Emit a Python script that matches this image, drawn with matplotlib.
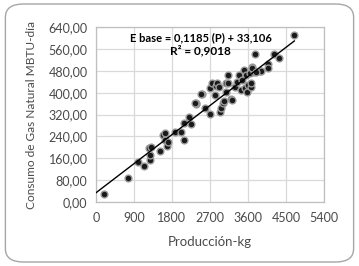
import matplotlib
matplotlib.use("Agg")
import matplotlib.pyplot as plt
from matplotlib.patches import FancyBboxPatch
from matplotlib.ticker import FuncFormatter
import numpy as np

# produccion (kg) y consumo de gas (MBTU-dia)
produccion = [198, 754, 1007, 1134, 1269, 1269, 1262, 1308, 1507, 1690,
              1587, 1642, 1642, 1705, 1880, 2006, 2077, 2077, 2196, 2260,
              2362, 2379, 2514, 2577, 2696, 2696, 2752, 2815, 2831, 2871,
              2910, 2934, 2966, 3005, 3029, 3069, 3069, 3133, 3133, 3188,
              3228, 3291, 3331, 3386, 3426, 3466, 3505, 3529, 3545, 3585,
              3600, 3648, 3664, 3704, 3742, 3885, 4694, 3759, 3704, 3664,
              3902, 4061, 4077, 4204, 4337, 3783, 2498, 2355]
consumo = [28, 88, 147, 132, 154, 172, 199, 202, 186, 205,
           245, 251, 227, 221, 255, 257, 227, 288, 310, 284,
           358, 361, 395, 343, 322, 418, 434, 391, 424, 436,
           422, 330, 345, 361, 370, 403, 434, 464, 436, 376,
           373, 422, 440, 464, 410, 446, 483, 416, 464, 403,
           428, 471, 422, 493, 477, 480, 613, 540, 491, 434,
           479, 504, 490, 540, 528, 477, 394, 361]

pendiente = 0.1185
intercepto = 33.106
x_ticks = [0, 900, 1800, 2700, 3600, 4500, 5400]
y_ticks = [0, 80, 160, 240, 320, 400, 480, 560, 640]

plt.rcParams['font.family'] = ['Lato', 'DejaVu Sans']

fig = plt.figure(figsize=(3.59, 2.66), dpi=100, facecolor="white")
# marco redondeado exterior
marco = FancyBboxPatch((0.015, 0.015), 0.97, 0.97, boxstyle="round,pad=0,rounding_size=0.05",
                       transform=fig.transFigure, facecolor="none", edgecolor="#a6a6a6",
                       linewidth=1.0, zorder=-10)
fig.patches.append(marco)

ax = fig.add_axes([0.267, 0.241, 0.636, 0.657])
ax.set_xlim(0, 5400)
ax.set_ylim(0, 640)
ax.set_xticks(x_ticks)
ax.set_yticks(y_ticks)
ax.yaxis.set_major_formatter(FuncFormatter(lambda v, p: f"{v:.2f}".replace(".", ",")))
ax.grid(True, color="#d9d9d9", linewidth=0.9)
ax.set_axisbelow(True)
for s in ax.spines.values():
    s.set_color("#bfbfbf")
    s.set_linewidth(0.9)
ax.tick_params(length=0, labelsize=9, colors="#4a4a4a")
ax.tick_params(axis="y", pad=6)
ax.tick_params(axis="x", pad=7)

# puntos con halo gris
ax.scatter(produccion, consumo, s=24, color="#1a1a1a", edgecolors="#9a9a9a", linewidths=1.0, zorder=3)

xl = np.array([0, max(produccion)])
ax.plot(xl, pendiente * xl + intercepto, color="black", linewidth=1.0, zorder=4)

ax.text(2474, 603, "E base = 0,1185 (P) + 33,106", ha="center", va="center",
        fontsize=8, fontweight="bold", color="black")
ax.text(2474, 556, "R² = 0,9018", ha="center", va="center",
        fontsize=8.5, fontweight="bold", color="black")

ax.set_xlabel("Producción-kg", fontsize=9.5, color="#4a4a4a", labelpad=9)
ax.set_ylabel("Consumo de Gas Natural MBTU-día", fontsize=8.6, color="#4a4a4a", labelpad=8)

fig.savefig("out.png", dpi=100)
